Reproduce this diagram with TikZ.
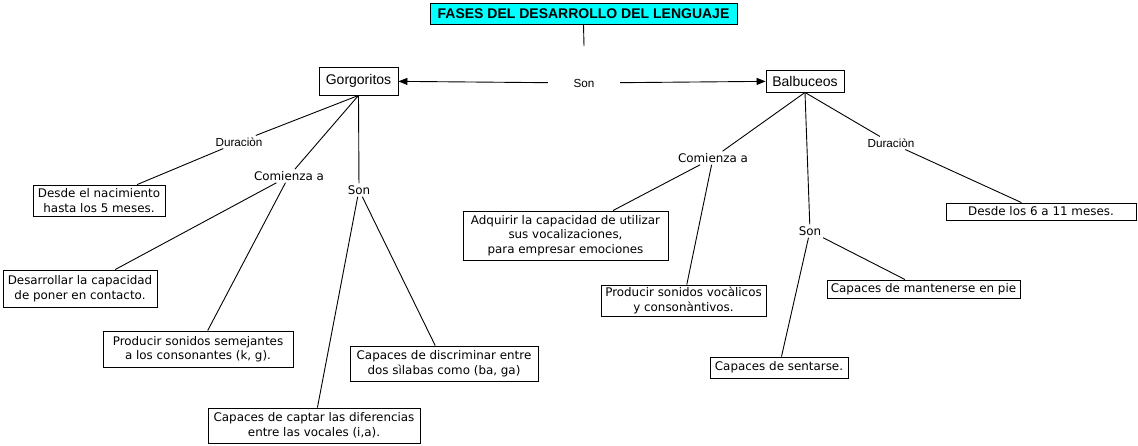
\documentclass[tikz,border=0pt]{standalone}
\usepackage{fontspec}
\setmainfont{DejaVu Sans}
\newfontfamily\arialf{Liberation Sans}
\usetikzlibrary{arrows.meta}
\definecolor{titlecyan}{RGB}{0,255,255}
\tikzset{
  box/.style={draw=black, line width=0.9pt, inner sep=0pt, align=center,
    font=\fontsize{11.9}{14.5}\selectfont},
  lab/.style={inner sep=2pt, font=\fontsize{11.9}{14}\selectfont},
  alab/.style={inner sep=2pt, font=\arialf\fontsize{11.7}{14}\selectfont},
  conn/.style={draw=black, line width=0.9pt},
  arr/.style={conn, -{Triangle[length=9pt,width=7pt]}},
}
\begin{document}
\begin{tikzpicture}[x=1pt,y=-1pt]
\useasboundingbox (0,0) rectangle (1138,445);
% title
\node[box, fill=titlecyan, minimum width=307, minimum height=21,
  font=\arialf\bfseries\fontsize{14}{16}\selectfont] (title) at (583.5,13.5) {FASES DEL DESARROLLO DEL LENGUAJE};
\coordinate (sontop) at (584,46);
\node[alab, minimum width=72] (son0) at (584,83) {Son};
\node[box, minimum width=79, minimum height=28, font=\arialf\fontsize{14}{16}\selectfont] (gorg) at (358.5,81) {Gorgoritos};
\node[box, minimum width=78, minimum height=22, font=\arialf\fontsize{14}{16}\selectfont] (bal) at (805,81) {Balbuceos};
\draw[conn] (title.south) -- (sontop);
\draw[arr] (son0) -- (gorg);
\draw[arr] (son0) -- (bal);
% Gorgoritos branch
\node[alab] (dur1) at (239,142) {Duraciòn};
\node[lab] (com1) at (289,176) {Comienza a};
\node[lab] (son1) at (359,190) {Son};
\node[box, minimum width=132, minimum height=31] (desde1) at (99,200.5) {Desde el nacimiento\\ hasta los 5 meses.};
\node[box, minimum width=154, minimum height=37] (desarr) at (80,288.5) {Desarrollar la capacidad\\de poner en contacto.};
\node[box, minimum width=190, minimum height=36] (prod1) at (198,349) {Producir sonidos semejantes\\ a los consonantes (k, g).};
\node[box, minimum width=188, minimum height=35] (discr) at (444,363.5) {Capaces de discriminar entre\\ dos sìlabas como (ba, ga)};
\node[box, minimum width=212, minimum height=35] (captar) at (314,425.5) {Capaces de captar las diferencias\\entre las vocales (i,a).};
\draw[conn] (gorg.south) -- (dur1);
\draw[conn] (gorg.south) -- (com1);
\draw[conn] (gorg.south) -- (son1);
\draw[conn] (dur1) -- (desde1);
\draw[conn] (com1) -- (desarr);
\draw[conn] (com1) -- (prod1);
\draw[conn] (son1) -- (captar);
\draw[conn] (son1) -- (discr);
% Balbuceos branch
\node[lab] (com2) at (713,158) {Comienza a};
\node[lab] (son2) at (810,231) {Son};
\node[alab] (dur2) at (891,143) {Duraciòn};
\node[box, minimum width=205, minimum height=49] (adq) at (565.5,235.5) {Adquirir la capacidad de utilizar\\sus vocalizaciones,\\ para empresar emociones};
\node[box, minimum width=165, minimum height=31] (prod2) at (683.5,300.5) {Producir sonidos vocàlicos\\ y consonàntivos.};
\node[box, minimum width=193, minimum height=18] (mant) at (923.5,289) {Capaces de mantenerse en pie};
\node[box, minimum width=138, minimum height=21] (sent) at (779,367.5) {Capaces de sentarse.};
\node[box, minimum width=190, minimum height=17] (desde2) at (1041,211.5) {Desde los 6 a 11 meses.};
\draw[conn] (bal.south) -- (com2);
\draw[conn] (bal.south) -- (son2);
\draw[conn] (bal.south) -- (dur2);
\draw[conn] (com2) -- (adq);
\draw[conn] (com2) -- (prod2);
\draw[conn] (son2) -- (sent);
\draw[conn] (son2) -- (mant);
\draw[conn] (dur2) -- (desde2);
\end{tikzpicture}
\end{document}
